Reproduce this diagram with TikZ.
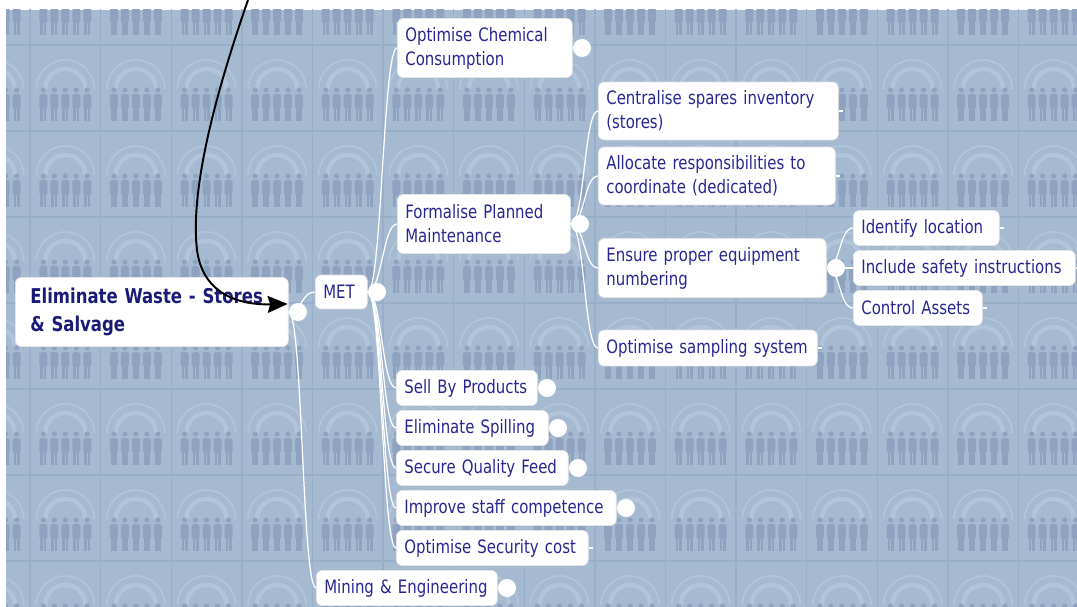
\documentclass[tikz,border=0pt]{standalone}
\usepackage{fontspec}
\setmainfont{DejaVu Sans Condensed}[FakeStretch=0.9]
\usetikzlibrary{arrows.meta,positioning}
\definecolor{wallblue}{RGB}{165,185,209}
\definecolor{tileedge}{RGB}{153,174,200}
\definecolor{tilearc}{RGB}{178,196,218}
\definecolor{folk}{RGB}{143,163,193}
\definecolor{topicblue}{RGB}{42,38,145}
\definecolor{rootblue}{RGB}{28,26,120}

\begin{document}
\begin{tikzpicture}[x=0.02cm,y=-0.02cm,
  topic/.style={rectangle,rounded corners=0.12cm,fill=white,draw=black!10,anchor=west,
    inner xsep=0.16cm,inner ysep=0.08cm,minimum height=0.7cm,align=left,text=topicblue,
    font=\fontsize{10.5}{13.6}\selectfont},
  twoline/.style={minimum height=1.18cm},
  knob/.style={circle,fill=white,inner sep=0pt,minimum size=0.36cm},
  branch/.style={draw=white,line width=0.7pt,
    to path={.. controls +(14,0) and +(-14,0) .. (\tikztotarget)}},
  stub/.style={draw=white,line width=0.7pt},
  pointer/.style={draw=black,line width=1.1pt,-{Stealth[length=0.4cm,width=0.34cm,inset=0.05cm]}}]
\useasboundingbox (0,0) rectangle (1077,607);
\fill[white] (0,0) rectangle (1077,607);
\fill[wallblue] (6,10) rectangle (1077,607);
\begin{scope}
\clip (6,10) rectangle (1077,607);
\foreach \i in {-1,...,15}{
  \foreach \j in {-1,...,6}{
    \pgfmathsetmacro\tx{30+70.6*\i}
    \pgfmathsetmacro\ty{45+86*\j}
    \draw[tileedge,line width=0.8pt] (\tx,\ty) rectangle ++(70.6,86);
    \draw[tilearc,line width=1pt] (\tx+6.3,\ty+44) arc[start angle=180,end angle=360,radius=29];
    \draw[tilearc,line width=2.5pt] (\tx+15.3,\ty+44) arc[start angle=180,end angle=360,radius=20];
    \foreach \k in {-2,...,2}{
      \fill[folk] (\tx+35.3+11*\k,\ty+45) circle[radius=2.6];
      \fill[folk,rounded corners=1pt] (\tx+31.3+11*\k,\ty+49) rectangle ++(8,15);
      \fill[folk] (\tx+32.3+11*\k,\ty+62) rectangle ++(2.7,14);
      \fill[folk] (\tx+35.6+11*\k,\ty+62) rectangle ++(2.7,14);
    }
  }
}
\end{scope}

\node[topic,inner xsep=0.3cm,text width=4.86cm,minimum height=1.38cm,text=rootblue,
  font=\bfseries\fontsize{11.6}{15.9}\selectfont] (root) at (15,312) {Eliminate Waste - Stores\\\& Salvage};
\node[topic,text width=0.72cm,minimum height=0.68cm] (met) at (315,292) {MET};
\node[topic,twoline,text width=3.18cm] (chem) at (397,48) {Optimise Chemical\\Consumption};
\node[topic,twoline,text width=3.14cm] (formal) at (397,224) {Formalise Planned\\Maintenance};
\node[topic,twoline,text width=4.48cm,minimum height=1.16cm] (central) at (598,111) {Centralise spares inventory\\(stores)};
\node[topic,twoline,text width=4.42cm,minimum height=1.16cm] (alloc) at (598,176) {Allocate responsibilities to\\coordinate (dedicated)};
\node[topic,twoline,text width=4.24cm] (ensure) at (598,268) {Ensure proper equipment\\numbering};
\node[topic,text width=2.60cm] (ident) at (853,228) {Identify location};
\node[topic,text width=4.12cm] (safety) at (853,268) {Include safety instructions};
\node[topic,text width=2.26cm] (assets) at (853,308) {Control Assets};
\node[topic,text width=4.06cm,minimum height=0.72cm] (sampling) at (598,348) {Optimise sampling system};
\node[topic,text width=2.50cm] (sellby) at (396,388) {Sell By Products};
\node[topic,text width=2.72cm] (spill) at (396,428) {Eliminate Spilling};
\node[topic,text width=3.12cm] (feed) at (396,468) {Secure Quality Feed};
\node[topic,text width=4.08cm] (staff) at (396,508) {Improve staff competence};
\node[topic,text width=3.52cm] (security) at (396,548) {Optimise Security cost};
\node[topic,text width=3.30cm] (mining) at (316,588) {Mining \& Engineering};

\draw[branch] (root.east) to (met.west);
\draw[branch] (root.east) to (mining.west);
\foreach \kid in {chem,formal,sellby,spill,feed,staff,security}
  \draw[branch] (met.east) to (\kid.west);
\foreach \kid in {central,alloc,ensure,sampling}
  \draw[branch] (formal.east) to (\kid.west);
\foreach \kid in {ident,safety,assets}
  \draw[branch] (ensure.east) to (\kid.west);
\foreach \kid in {central,alloc,ident,safety,assets,sampling,security}
  \draw[stub] (\kid.east) -- ++(4,0);

\node[knob,right=0cm of root] (rootknob) {};
\node[knob,right=0cm of met] (metknob) {};
\node[knob,right=0cm of chem] (chemknob) {};
\node[knob,right=0cm of formal] (formalknob) {};
\node[knob,right=0cm of ensure] (ensureknob) {};
\node[knob,right=0cm of sellby] (sellbyknob) {};
\node[knob,right=0cm of spill] (spillknob) {};
\node[knob,right=0cm of feed] (feedknob) {};
\node[knob,right=0cm of staff] (staffknob) {};
\node[knob,right=0cm of mining] (miningknob) {};

\coordinate (pointer) at (248,0);
\draw[pointer] (pointer) .. controls (215,95) and (190,190) .. (197,250)
  .. controls (203,295) and (240,305) .. ([xshift=-0.02cm,yshift=0.16cm]root.east);
\end{tikzpicture}
\end{document}
